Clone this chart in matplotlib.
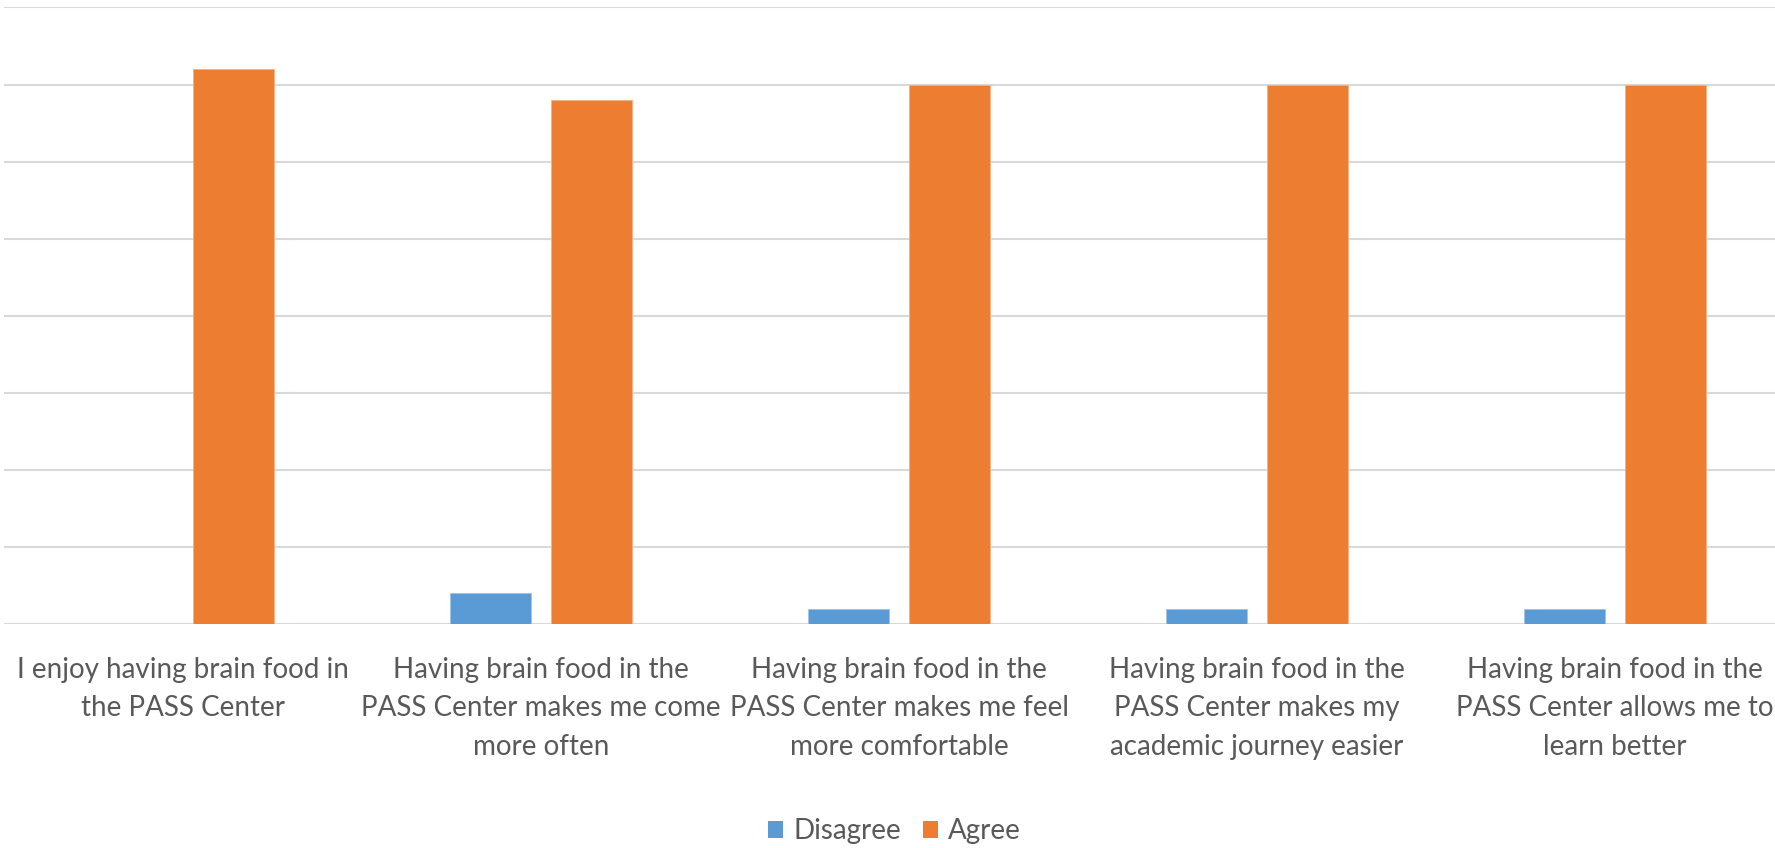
import matplotlib
matplotlib.use('Agg')
import matplotlib.pyplot as plt
from matplotlib.patches import Patch
import numpy as np

categories = [
    'I enjoy having brain food in\nthe PASS Center',
    'Having brain food in the\nPASS Center makes me come\nmore often',
    'Having brain food in the\nPASS Center makes me feel\nmore comfortable',
    'Having brain food in the\nPASS Center makes my\nacademic journey easier',
    'Having brain food in the\nPASS Center allows me to\nlearn better',
]
disagree = [0, 2, 1, 1, 1]
agree = [36, 34, 35, 35, 35]
series_names = ['Disagree', 'Agree']
blue = '#5B9BD5'
orange = '#ED7D31'

plt.rcParams['font.family'] = ['Lato', 'DejaVu Sans']

fig = plt.figure(figsize=(17.75, 8.48), dpi=100)
# plot area runs a little past the right edge, as in the cropped original
ax = fig.add_axes([4 / 1775, 224 / 848, 1790 / 1775, 616.5 / 848])

x = np.arange(len(categories))
w = 0.225
off = 0.141
ax.bar(x - off, disagree, w, color=blue, edgecolor='#9DC3E6', linewidth=0.6, zorder=3)
ax.bar(x + off, agree, w, color=orange, edgecolor='#F4B183', linewidth=0.6, zorder=3)

ax.set_xlim(-0.5, len(categories) - 0.5)
ax.set_ylim(0, 40)
ax.set_yticks(np.arange(0, 41, 5))
ax.yaxis.grid(True, color='#D9D9D9', linewidth=1.5, zorder=0)
ax.set_axisbelow(True)
ax.tick_params(axis='y', left=False, labelleft=False)
ax.tick_params(axis='x', bottom=False, pad=20)
ax.set_xticks(x)
ax.set_xticklabels(categories, fontsize=20, color='#595959', linespacing=1.6)
for s in ax.spines.values():
    s.set_visible(False)

handles = [Patch(facecolor=blue, label=series_names[0]),
           Patch(facecolor=orange, label=series_names[1])]
fig.legend(handles=handles, loc='center', bbox_to_anchor=(0.504, 17 / 848), ncol=2,
           frameon=False, fontsize=20, labelcolor='#595959',
           handlelength=0.55, handleheight=0.55, handletextpad=0.35, columnspacing=0.8)

fig.savefig('out.png', dpi=100)
